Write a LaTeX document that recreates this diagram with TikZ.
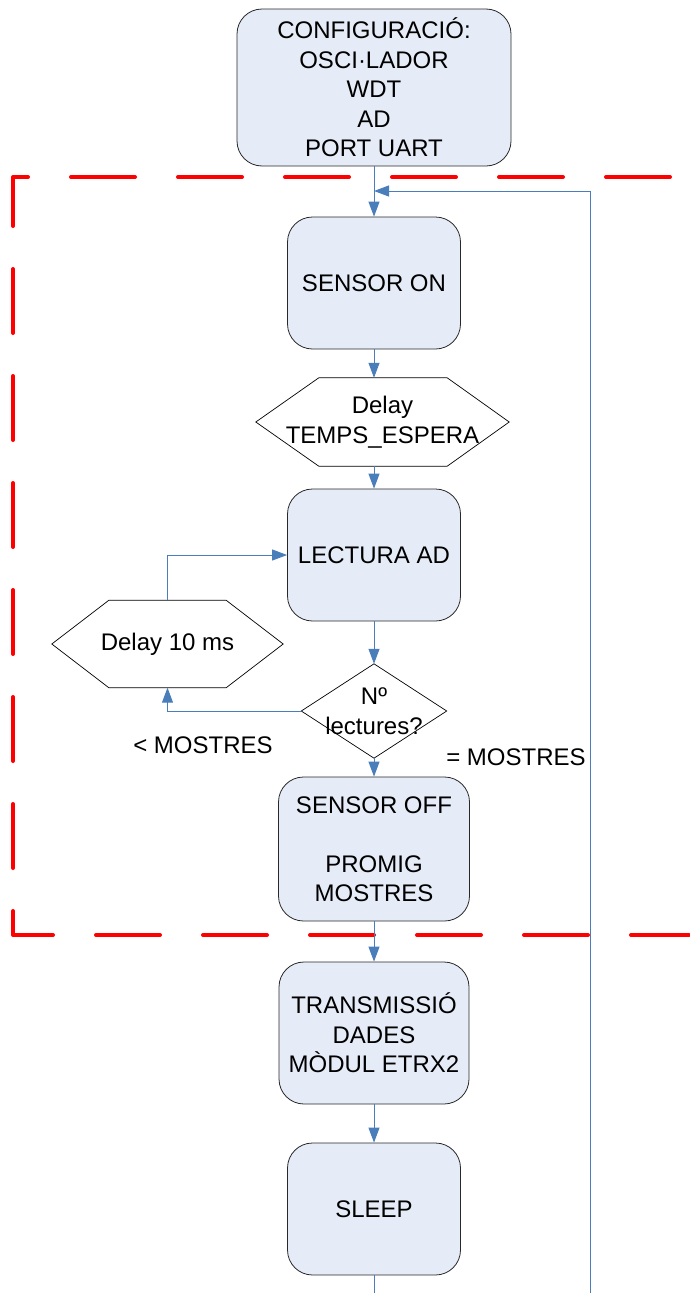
\documentclass[tikz,border=0pt]{standalone}
\usepackage{fontspec}
\setmainfont{Liberation Sans}
\usetikzlibrary{arrows.meta}
\definecolor{boxfill}{RGB}{230,236,247}
\definecolor{boxline}{RGB}{40,40,40}
\definecolor{conncol}{RGB}{74,126,187}
\definecolor{framered}{RGB}{255,0,0}
\tikzset{
  txt/.style={font=\fontsize{24}{29.5}\selectfont, align=center, inner sep=0pt},
  procbox/.style={txt, draw=boxline, fill=boxfill, line width=0.8pt, rounded corners=25pt},
  hexbox/.style={txt, draw=none, fill=none},
  hexline/.style={draw=black, line width=0.7pt, line join=miter},
  conn/.style={draw=conncol, line width=1pt, -{Triangle[length=15pt,width=11pt]}},
  plainconn/.style={draw=conncol, line width=1pt},
  frame/.style={draw=framered, line width=4pt, line cap=round, line join=round,
    dash pattern=on 64pt off 43pt, dash phase=88pt}
}
\begin{document}
\begin{tikzpicture}[x=1pt,y=-1pt]
\useasboundingbox (0,0) rectangle (689,1293);
% frame
\draw[frame] (689,177) -- (13,177) -- (13,935) -- (689,935);
% nodes
\node[procbox, minimum width=274pt, minimum height=157pt] (cfg) at (374,87.5)
  {CONFIGURACIÓ:\\OSCI·LADOR\\WDT\\AD\\PORT UART};
\node[procbox, minimum width=173pt, minimum height=132pt] (son) at (374,283) {SENSOR ON};
\node[hexbox, minimum width=253pt, minimum height=88pt] (dly1) at (382.5,422) {Delay\\TEMPS\_ESPERA};
\draw[hexline] (dly1.west) -- ([xshift=63pt]dly1.north west) -- ([xshift=-62pt]dly1.north east)
  -- (dly1.east) -- ([xshift=-62pt]dly1.south east) -- ([xshift=63pt]dly1.south west) -- cycle;
\node[procbox, minimum width=173pt, minimum height=132pt] (lec) at (374,555) {LECTURA AD};
\node[hexbox, minimum width=145pt, minimum height=94pt] (dec) at (374,711) {Nº\\lectures?};
\draw[hexline] (dec.north) -- (dec.east) -- (dec.south) -- (dec.west) -- cycle;
\node[hexbox, minimum width=231pt, minimum height=87pt] (dly2) at (167.5,644) {Delay 10 ms};
\draw[hexline] (dly2.west) -- ([xshift=57pt]dly2.north west) -- ([xshift=-57pt]dly2.north east)
  -- (dly2.east) -- ([xshift=-57pt]dly2.south east) -- ([xshift=57pt]dly2.south west) -- cycle;
\node[procbox, minimum width=191pt, minimum height=144pt] (soff) at (374,849)
  {SENSOR OFF\\[29.5pt]PROMIG\\MOSTRES};
\node[procbox, minimum width=190pt, minimum height=142pt] (tx) at (374,1033)
  {TRANSMISSIÓ\\DADES\\MÒDUL ETRX2};
\node[procbox, minimum width=173pt, minimum height=132pt] (slp) at (374,1209) {SLEEP};
\node[txt] (lt) at (203,745) {< MOSTRES};
\node[txt] (eq) at (516,757) {= MOSTRES};
% connectors
\coordinate (join) at (374,191);
\coordinate (loopbot) at (590,1293);
\coordinate (slpout) at (374,1293);
\draw[conn] (cfg.south) -- (son.north);
\draw[conn] (loopbot) |- (join);
\draw[conn] (son.south) -- (son.south |- dly1.north);
\draw[conn] (lec.north |- dly1.south) -- (lec.north);
\draw[conn] (lec.south) -- (dec.north);
\draw[conn] (dec.west) -| (dly2.south);
\draw[conn] (dly2.north) |- (lec.west);
\draw[conn] (dec.south) -- (soff.north);
\draw[conn] (soff.south) -- (tx.north);
\draw[conn] (tx.south) -- (slp.north);
\draw[plainconn] (slp.south) -- (slpout);
\end{tikzpicture}
\end{document}
